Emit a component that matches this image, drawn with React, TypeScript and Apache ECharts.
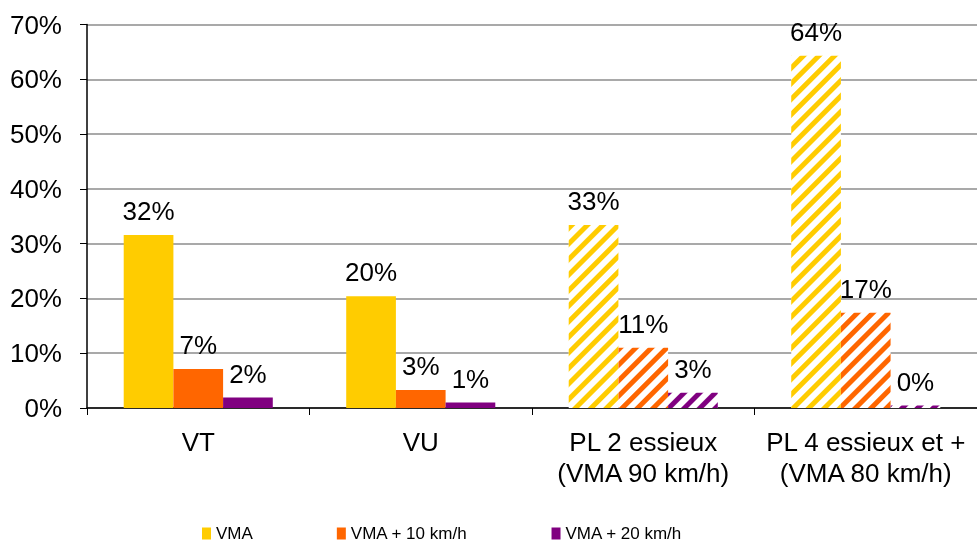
import React, { useEffect, useRef } from "react";
import * as echarts from "echarts";

const categories = ["VT", "VU", "PL 2 essieux\n(VMA 90 km/h)", "PL 4 essieux et +\n(VMA 80 km/h)"];
const seriesNames = ["VMA", "VMA + 10 km/h", "VMA + 20 km/h"];
const vmaValues = [31.6, 20.4, 33.4, 64.3];
const vma10Values = [7.1, 3.3, 11.0, 17.4];
const vma20Values = [1.9, 1.0, 2.8, 0.45];
const stripedCategories = [false, false, true, true];
const colors = ["#FFCC00", "#FF6600", "#800080"];
const yTicks = [0, 10, 20, 30, 40, 50, 60, 70];

const FONT = "'Liberation Sans', Arial, sans-serif";

export default function App() {
  const ref = useRef<HTMLDivElement>(null);
  useEffect(() => {
    document.body.style.margin = "0";
    const chart = echarts.init(ref.current!, null, { renderer: "svg" });
    const makeData = (vals: number[], color: string) =>
      vals.map((v, i) =>
        stripedCategories[i]
          ? {
              value: v,
              itemStyle: {
                color: "#ffffff",
                decal: {
                  symbol: "rect",
                  symbolSize: 1,
                  dashArrayX: [1, 0],
                  dashArrayY: [5, 6],
                  rotation: -Math.PI / 4,
                  color: color,
                },
              },
            }
          : { value: v }
      );
    const allValues = [vmaValues, vma10Values, vma20Values];
    chart.setOption({
      animation: false,
      textStyle: { fontFamily: FONT },
      grid: { left: 87, right: -2, top: 24.5, bottom: 137, containLabel: false },
      legend: {
        left: 202,
        top: 525,
        padding: 0,
        itemWidth: 9,
        itemHeight: 12,
        itemGap: 84,
        icon: "rect",
        textStyle: { fontSize: 17, color: "#000", fontFamily: FONT },
        data: seriesNames,
      },
      xAxis: {
        type: "category",
        data: categories,
        axisLine: { lineStyle: { color: "#000", width: 1.5 } },
        axisTick: { show: true, length: 7, lineStyle: { color: "#000" } },
        axisLabel: {
          interval: 0,
          color: "#000",
          fontSize: 26,
          lineHeight: 31,
          margin: 18,
          fontFamily: FONT,
        },
      },
      yAxis: {
        type: "value",
        min: yTicks[0],
        max: yTicks[yTicks.length - 1],
        interval: 10,
        axisLine: { show: true, lineStyle: { color: "#000", width: 1.5 } },
        axisTick: { show: true, length: 7, lineStyle: { color: "#000" } },
        axisLabel: {
          color: "#000",
          fontSize: 26,
          margin: 25,
          fontFamily: FONT,
          formatter: (v: number) => v + "%",
        },
        splitLine: { show: true, lineStyle: { color: "#8c8c8c", width: 1.5 } },
      },
      series: seriesNames.map((name, si) => ({
        name,
        type: "bar",
        barGap: "0%",
        barCategoryGap: "33%",
        itemStyle: { color: colors[si] },
        label: {
          show: true,
          position: "top",
          distance: 11,
          color: "#000",
          fontSize: 26,
          fontFamily: FONT,
          formatter: (p: any) => Math.round(p.value) + "%",
        },
        data: makeData(allValues[si], colors[si]),
      })),
    });
    return () => chart.dispose();
  }, []);
  return (
    <div
      ref={ref}
      style={{ position: "fixed", left: 0, top: 0, width: 977, height: 545 }}
    />
  );
}
